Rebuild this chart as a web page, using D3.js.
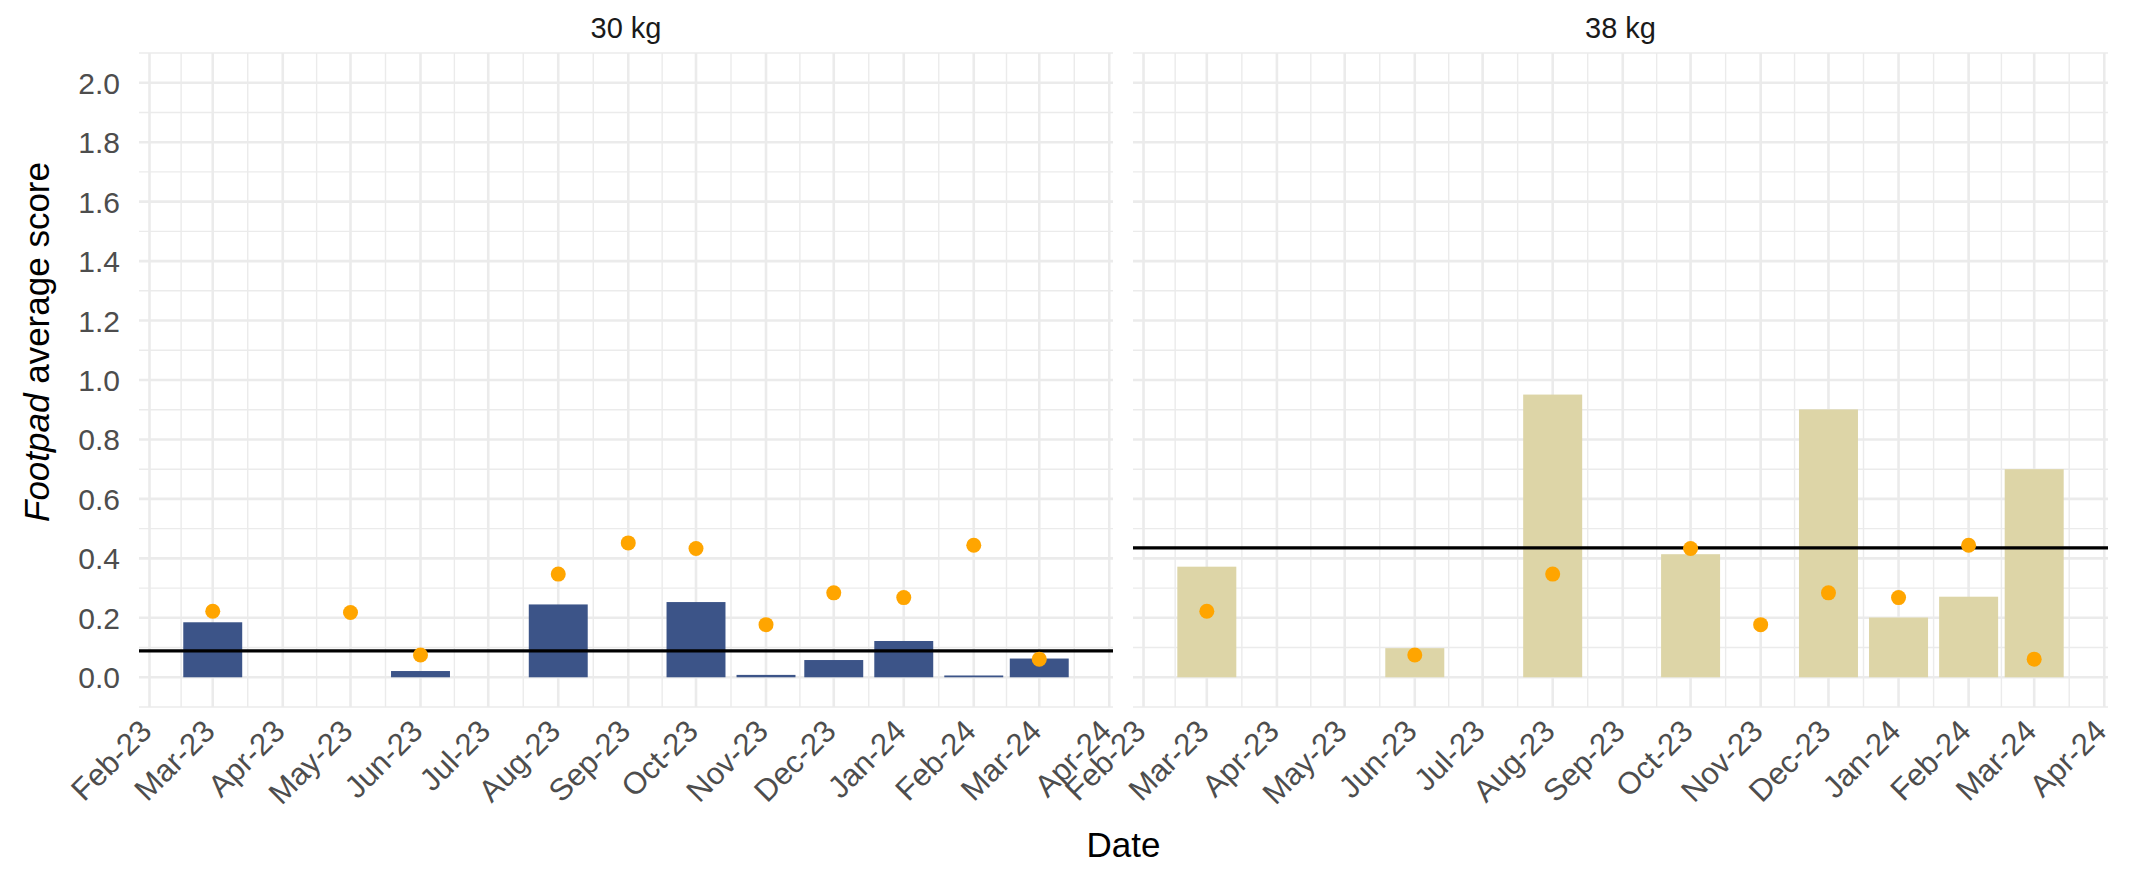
<!DOCTYPE html>
<html lang="en">
<head>
<meta charset="utf-8">
<title>Footpad average score</title>
<script src="https://cdn.jsdelivr.net/npm/d3@7"></script>
<style>
body { margin: 0; background: #fff; }
text { font-family: "Liberation Sans", Arial, sans-serif; }
.xtick { fill: #4d4d4d; font-size: 31px; }
.ytick { fill: #4d4d4d; font-size: 30px; }
.strip { fill: #1a1a1a; font-size: 29px; }
.title { fill: #000; font-size: 35px; }
.grid-major { stroke: #ebebeb; stroke-width: 2.6; }
.grid-minor { stroke: #ebebeb; stroke-width: 1.4; }
</style>
</head>
<body>
<div id="chart"></div>
<script>

var w = 2134;
var h = 869;

// panel labels
var panelLabels = ["30 kg", "38 kg"];

// 30 kg bars
var barMonths30 = ["2023-03-01", "2023-06-01", "2023-08-01", "2023-10-01", "2023-11-01",
                   "2023-12-01", "2024-01-01", "2024-02-01", "2024-03-01"];
var barValues30 = [0.185, 0.021, 0.245, 0.253, 0.008, 0.058, 0.122, 0.006, 0.063];

// 38 kg bars
var barMonths38 = ["2023-03-01", "2023-06-01", "2023-08-01", "2023-10-01",
                   "2023-12-01", "2024-01-01", "2024-02-01", "2024-03-01"];
var barValues38 = [0.372, 0.098, 0.951, 0.414, 0.901, 0.201, 0.271, 0.700];

// orange points
var pointMonths30 = ["2023-03-01", "2023-05-01", "2023-06-01", "2023-08-01", "2023-09-01", "2023-10-01",
                     "2023-11-01", "2023-12-01", "2024-01-01", "2024-02-01", "2024-03-01"];
var pointValues30 = [0.222, 0.218, 0.075, 0.347, 0.452, 0.433, 0.177, 0.284, 0.268, 0.444, 0.061];
var pointMonths38 = ["2023-03-01", "2023-06-01", "2023-08-01", "2023-10-01",
                     "2023-11-01", "2023-12-01", "2024-01-01", "2024-02-01", "2024-03-01"];
var pointValues38 = [0.222, 0.075, 0.347, 0.433, 0.177, 0.284, 0.268, 0.444, 0.061];

// horizontal reference lines
var refLines = [0.089, 0.435];

// y ticks
var yTicks = [0, 0.2, 0.4, 0.6, 0.8, 1.0, 1.2, 1.4, 1.6, 1.8, 2.0];
var yMinor = [-0.1, 0.1, 0.3, 0.5, 0.7, 0.9, 1.1, 1.3, 1.5, 1.7, 1.9, 2.1];

var barColors = ["#3c5488", "#ddd5a7"];
var pointColor = "#ffa500";

var parse = d3.timeParse("%Y-%m-%d");
var DAY = 864e5;
var barDays = 26.1;

var svg = d3.select("#chart").append("svg")
    .attr("width", w)
    .attr("height", h);

// shared x domain: bar extents + 5% expansion
var allDates = barMonths30.concat(barMonths38).map(parse);
var lo = +d3.min(allDates) - barDays / 2 * DAY;
var hi = +d3.max(allDates) + barDays / 2 * DAY;
var pad = (hi - lo) * 0.05;
var xDomain = [new Date(lo - pad), new Date(hi + pad)];

var plotTop = 53, plotBottom = 707;
var y = d3.scaleLinear().domain([-0.1, 2.1]).range([plotBottom, plotTop]);

var panels = [
  { label: panelLabels[0], x0: 139, x1: 1113, months: barMonths30, values: barValues30,
    pMonths: pointMonths30, pValues: pointValues30, ref: refLines[0], color: barColors[0] },
  { label: panelLabels[1], x0: 1133, x1: 2108, months: barMonths38, values: barValues38,
    pMonths: pointMonths38, pValues: pointValues38, ref: refLines[1], color: barColors[1] }
];

var fmt = d3.timeFormat("%b-%y");

panels.forEach(function(p) {
  var x = d3.scaleTime().domain(xDomain).range([p.x0, p.x1]);
  var g = svg.append("g");

  var majors = d3.timeMonth.range(d3.timeMonth.ceil(xDomain[0]), xDomain[1]);
  var minors = [];
  for (var i = 0; i < majors.length - 1; i++) {
    minors.push(new Date((+majors[i] + +majors[i + 1]) / 2));
  }

  // grid
  g.selectAll(".ymin").data(yMinor).enter().append("line")
    .attr("class", "grid-minor")
    .attr("x1", p.x0).attr("x2", p.x1)
    .attr("y1", y).attr("y2", y);
  g.selectAll(".xmin").data(minors).enter().append("line")
    .attr("class", "grid-minor")
    .attr("x1", x).attr("x2", x)
    .attr("y1", plotTop).attr("y2", plotBottom);
  g.selectAll(".ymaj").data(yTicks).enter().append("line")
    .attr("class", "grid-major")
    .attr("x1", p.x0).attr("x2", p.x1)
    .attr("y1", y).attr("y2", y);
  g.selectAll(".xmaj").data(majors).enter().append("line")
    .attr("class", "grid-major")
    .attr("x1", x).attr("x2", x)
    .attr("y1", plotTop).attr("y2", plotBottom);

  // bars
  var bw = x(new Date(+xDomain[0] + barDays * DAY)) - p.x0;
  g.selectAll(".bar").data(p.months).enter().append("rect")
    .attr("x", function(d) { return x(parse(d)) - bw / 2; })
    .attr("width", bw)
    .attr("y", function(d, i) { return y(p.values[i]); })
    .attr("height", function(d, i) { return y(0) - y(p.values[i]); })
    .attr("fill", p.color);

  // reference line
  g.append("line")
    .attr("x1", p.x0).attr("x2", p.x1)
    .attr("y1", y(p.ref)).attr("y2", y(p.ref))
    .attr("stroke", "#000").attr("stroke-width", 3.2);

  // points
  g.selectAll(".pt").data(p.pMonths).enter().append("circle")
    .attr("cx", function(d) { return x(parse(d)); })
    .attr("cy", function(d, i) { return y(p.pValues[i]); })
    .attr("r", 7.5)
    .attr("fill", pointColor);

  // x tick labels
  g.selectAll(".xtick").data(majors).enter().append("text")
    .attr("class", "xtick")
    .attr("text-anchor", "end")
    .attr("transform", function(d) { return "translate(" + (x(d) + 4) + ",733) rotate(-45)"; })
    .text(fmt);

  // strip label
  g.append("text")
    .attr("class", "strip")
    .attr("text-anchor", "middle")
    .attr("x", (p.x0 + p.x1) / 2).attr("y", 38)
    .text(p.label);
});

// y tick labels
svg.selectAll(".ytick").data(yTicks).enter().append("text")
  .attr("class", "ytick")
  .attr("text-anchor", "end")
  .attr("x", 120)
  .attr("y", function(d) { return y(d) + 11; })
  .text(d3.format(".1f"));

// axis titles
svg.append("text")
  .attr("class", "title")
  .attr("text-anchor", "middle")
  .attr("x", (139 + 2108) / 2).attr("y", 857)
  .text("Date");

var yt = svg.append("text")
  .attr("class", "title")
  .attr("text-anchor", "middle")
  .attr("transform", "translate(49,342) rotate(-90)");
yt.append("tspan").attr("font-style", "italic").text("Footpad");
yt.append("tspan").text(" average score");

</script>
</body>
</html>
